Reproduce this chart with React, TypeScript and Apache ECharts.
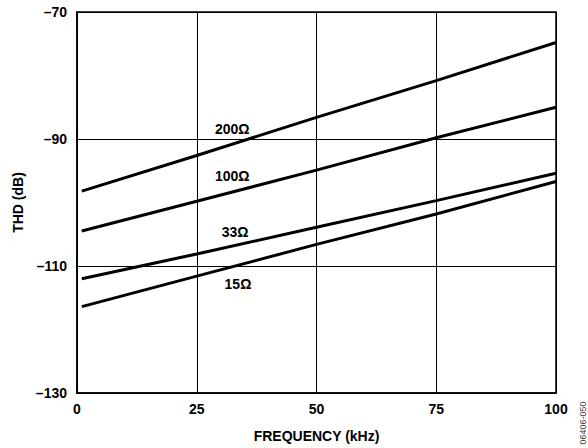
import React, { useEffect, useRef } from "react";
import * as echarts from "echarts";

const freqKHz = [1, 25, 50, 75, 100];
const thd200 = [-98.2, -92.6, -86.6, -80.8, -74.8];
const thd100 = [-104.5, -99.8, -94.9, -89.8, -85.0];
const thd33 = [-112.0, -108.1, -103.9, -99.7, -95.4];
const thd15 = [-116.4, -111.6, -106.6, -101.8, -96.7];

const seriesNames = ["200Ω", "100Ω", "33Ω", "15Ω"];
const seriesValues = [thd200, thd100, thd33, thd15];
// label anchor points in data units [kHz, dB]
const labelAnchors = [
  [32.4, -88.4],
  [32.4, -95.9],
  [33.0, -104.6],
  [33.6, -112.9],
];

const FONT = "'Liberation Sans', Arial, sans-serif";

export default function App() {
  const ref = useRef<HTMLDivElement>(null);
  useEffect(() => {
    if (!ref.current) return;
    const chart = echarts.init(ref.current, null, { renderer: "svg" });
    chart.setOption({
      animation: false,
      backgroundColor: "#fff",
      grid: {
        left: 77,
        top: 12,
        width: 479,
        height: 384,
        show: true,
        borderColor: "#000",
        borderWidth: 1.5,
        backgroundColor: "transparent",
      },
      xAxis: {
        type: "value",
        min: 0,
        max: 100,
        interval: 25,
        name: "FREQUENCY (kHz)",
        nameLocation: "middle",
        nameGap: 36,
        nameTextStyle: { fontFamily: FONT, fontWeight: "bold", fontSize: 14, color: "#000" },
        axisLine: { lineStyle: { color: "#000", width: 1.5 } },
        axisTick: { show: false },
        axisLabel: {
          fontFamily: FONT,
          fontWeight: "bold",
          fontSize: 14,
          color: "#000",
          margin: 9,
        },
        splitLine: { show: true, lineStyle: { color: "#000", width: 1 } },
      },
      yAxis: {
        type: "value",
        min: -130,
        max: -70,
        interval: 20,
        name: "THD (dB)",
        nameLocation: "middle",
        nameRotate: 90,
        nameGap: 52,
        nameTextStyle: { fontFamily: FONT, fontWeight: "bold", fontSize: 14, color: "#000" },
        axisLine: { lineStyle: { color: "#000", width: 1.5 } },
        axisTick: { show: false },
        axisLabel: {
          fontFamily: FONT,
          fontWeight: "bold",
          fontSize: 14,
          color: "#000",
          margin: 10,
          formatter: (v: number) => String(v).replace("-", "\u2013"),
        },
        splitLine: { show: true, lineStyle: { color: "#000", width: 1 } },
      },
      series: seriesNames.map((name, i) => ({
        type: "line",
        name,
        data: freqKHz.map((f, j) => [f, seriesValues[i][j]]),
        symbol: "none",
        smooth: false,
        lineStyle: { color: "#000", width: 3 },
        markPoint: {
          symbol: "circle",
          symbolSize: 0,
          label: {
            show: true,
            position: "inside",
            formatter: name,
            fontFamily: FONT,
            fontWeight: "bold",
            fontSize: 14,
            color: "#000",
          },
          data: [{ coord: labelAnchors[i] }],
        },
      })),
      graphic: [
        {
          type: "text",
          x: 583,
          y: 423,
          rotation: Math.PI / 2,
          style: {
            text: "06406-050",
            font: "9px 'Liberation Sans', Arial, sans-serif",
            fill: "#444",
            align: "center",
            verticalAlign: "middle",
          },
        },
      ],
    });
    return () => chart.dispose();
  }, []);
  return (
    <div
      ref={ref}
      style={{ position: "fixed", left: 0, top: 0, width: 588, height: 448 }}
    />
  );
}
